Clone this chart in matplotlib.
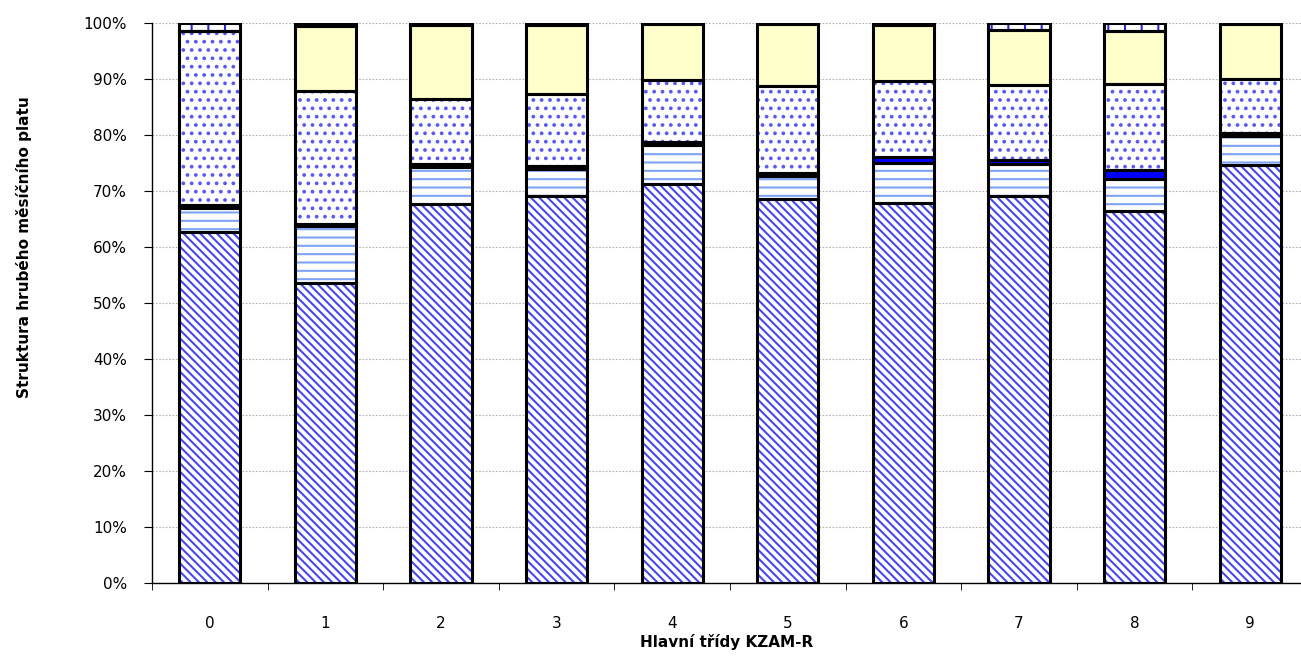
import numpy as np
import matplotlib.pyplot as plt
from matplotlib.ticker import PercentFormatter, FixedLocator

trida = ["0", "1", "2", "3", "4", "5", "6", "7", "8", "9"]

# podily slozek platu v % (zdola nahoru)
zaklad = [62.7, 53.5, 67.7, 69.2, 71.3, 68.6, 67.8, 69.2, 66.5, 74.7]
priplatky = [4.3, 10.3, 6.6, 4.7, 6.9, 4.1, 7.2, 5.6, 5.6, 5.2]
nahrady = [0.5, 0.3, 0.5, 0.6, 0.5, 0.6, 1.0, 0.8, 1.7, 0.5]
odmeny = [31.0, 23.8, 11.7, 12.9, 11.1, 15.5, 13.6, 13.3, 15.4, 9.7]
ostatni = [0.0, 11.5, 13.1, 12.3, 10.0, 11.0, 10.1, 9.9, 9.3, 9.7]
zbytek = [1.5, 0.6, 0.4, 0.3, 0.2, 0.2, 0.3, 1.2, 1.5, 0.2]

plt.rcParams["font.family"] = ["DejaVu Sans"]
plt.rcParams["hatch.linewidth"] = 1.5

fig = plt.figure(figsize=(13.01, 6.59), dpi=100)
ax = fig.add_axes([0.1168, 0.1153, 0.8832, 0.8497])

x = np.arange(len(trida))
w = 0.53

vrstvy = [
    (zaklad, "white", "#4848ee", "\\\\\\\\"),
    (priplatky, "white", "#7fa4f5", "--"),
    (nahrady, "#0000ff", "#0000ff", None),
    (odmeny, "white", "#5a5af2", ".."),
    (ostatni, "#ffffcc", "#ffffcc", None),
    (zbytek, "white", "#2a2ad8", "|"),
]

dole = np.zeros(len(trida))
for hodnoty, barva, hatchbarva, hatch in vrstvy:
    h = np.array(hodnoty)
    ax.bar(x, h, w, bottom=dole, color=barva, edgecolor=hatchbarva,
           hatch=hatch, linewidth=0, zorder=2)
    ax.bar(x, h, w, bottom=dole, fill=False, edgecolor="black",
           linewidth=2.2, zorder=3)
    dole = dole + h

ax.set_xlim(-0.5, 9.44)
ax.set_ylim(0, 100)
ax.set_yticks(np.arange(0, 101, 10))
ax.yaxis.set_major_formatter(PercentFormatter(decimals=0))
ax.yaxis.grid(True, linestyle=(0, (1.5, 1.5)), color="#b0b0b0", linewidth=0.8, zorder=0)

ax.set_xticks(x)
ax.set_xticklabels(trida)
ax.xaxis.set_minor_locator(FixedLocator(np.arange(-0.5, 10, 1)))
ax.tick_params(axis="x", which="major", length=0, pad=24, labelsize=11)
ax.tick_params(axis="x", which="minor", length=5, direction="out")
ax.tick_params(axis="y", length=6, direction="out", pad=12, labelsize=11)

for s in ["top", "right"]:
    ax.spines[s].set_visible(False)
ax.spines["left"].set_linewidth(1.0)
ax.spines["bottom"].set_linewidth(1.0)

ax.set_xlabel("Hlavní třídy KZAM-R", fontsize=11, fontweight="bold", labelpad=2)
ax.set_ylabel("Struktura hrubého měsíčního platu", fontsize=11, fontweight="bold")
ax.yaxis.set_label_coords(-0.104, 0.6)

fig.savefig("out.png", dpi=100)
